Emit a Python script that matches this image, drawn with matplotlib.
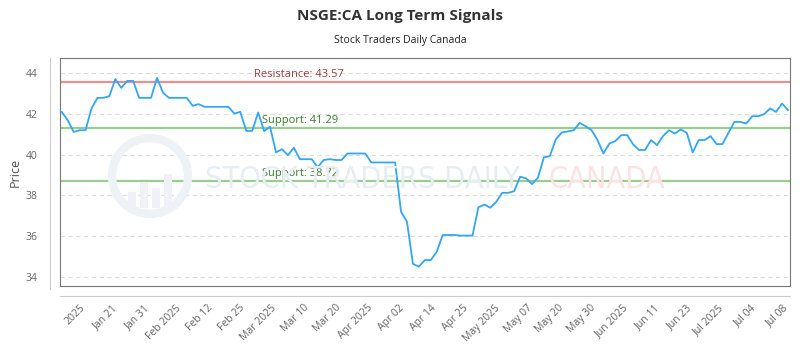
import matplotlib
matplotlib.use("Agg")
import matplotlib.pyplot as plt
import numpy as np
from matplotlib.lines import Line2D
from matplotlib.patches import Circle, Rectangle

plt.rcParams['font.family'] = ['Open Sans', 'DejaVu Sans']

# daily closes, oldest first
prices = [42.10, 41.70, 41.12, 41.20, 41.20, 42.27, 42.79, 42.79, 42.87, 43.71,
          43.28, 43.62, 43.62, 42.79, 42.79, 42.79, 43.77, 43.05, 42.79, 42.79,
          42.79, 42.79, 42.40, 42.48, 42.35, 42.35, 42.35, 42.35, 42.35, 42.02,
          42.10, 41.17, 41.17, 42.07, 41.16, 41.37, 40.11, 40.27, 39.98, 40.34,
          39.78, 39.78, 39.78, 39.38, 39.74, 39.78, 39.74, 39.74, 40.06, 40.06,
          40.06, 40.06, 39.62, 39.62, 39.62, 39.62, 39.62, 37.20, 36.71, 34.64,
          34.51, 34.83, 34.83, 35.24, 36.06, 36.06, 36.06, 36.03, 36.03, 36.03,
          37.42, 37.55, 37.40, 37.69, 38.13, 38.13, 38.21, 38.92, 38.84, 38.56,
          38.87, 39.87, 39.93, 40.75, 41.09, 41.14, 41.20, 41.56, 41.40, 41.20,
          40.72, 40.06, 40.55, 40.67, 40.96, 40.96, 40.50, 40.23, 40.23, 40.72,
          40.47, 40.91, 41.20, 41.04, 41.24, 41.07, 40.11, 40.72, 40.72, 40.91,
          40.52, 40.52, 41.07, 41.61, 41.61, 41.53, 41.89, 41.89, 41.99, 42.27,
          42.10, 42.51, 42.19]

tick_labels = ["2025", "Jan 21", "Jan 31", "Feb 2025", "Feb 12", "Feb 25",
               "Mar 2025", "Mar 10", "Mar 20", "Apr 2025", "Apr 02", "Apr 14",
               "Apr 25", "May 2025", "May 07", "May 20", "May 30", "Jun 2025",
               "Jun 11", "Jun 23", "Jul 2025", "Jul 04", "Jul 08"]

resistance = 43.57
supports = [41.29, 38.72]

fig = plt.figure(figsize=(8, 3.5), dpi=100)
ax = fig.add_axes([0.075, 0.183, 0.9125, 0.651])

# watermark: ring logo + name
logo_tr = fig.dpi_scale_trans
fig.patches.append(Circle((1.50, 1.74), 0.38, transform=logo_tr, fill=False,
                          lw=6, ec='#edf2f6', zorder=0))
for bx, bh in [(1.28, 0.16), (1.40, 0.26), (1.52, 0.20), (1.64, 0.34)]:
    fig.patches.append(Rectangle((bx, 1.42), 0.08, bh, transform=logo_tr,
                                 fc='#eef2f6', ec='none', zorder=0))
wm_font = dict(fontsize=22, fontstretch='condensed', va='center', zorder=0,
               family=['DejaVu Sans'])
fig.text(0.256, 0.486, "STOCK TRADERS DAILY", color='#e6edf3', **wm_font)
fig.text(0.685, 0.486, "CANADA", color='#fbe3e3', **wm_font)

x = np.arange(len(prices))
ax.set_facecolor('none')
for yv in range(34, 45, 2):
    ax.axhline(yv, color='#dddddd', lw=0.8, ls=(0, (4, 3)), zorder=1)

ax.axhline(resistance, color='#ea9090', lw=1.6, zorder=2)
for s in supports:
    ax.axhline(s, color='#98cf8e', lw=1.6, zorder=2)
ax.plot(x, prices, color='#33a6f5', lw=1.3, zorder=3)

lbl_tr = ax.get_yaxis_transform()
ax.text(0.266, resistance + 0.1, f"Resistance: {resistance:.2f}", transform=lbl_tr,
        color='#a33a3a', fontsize=8, va='bottom')
for s in supports:
    ax.text(0.277, s + 0.1, f"Support: {s:.2f}", transform=lbl_tr,
            color='#3b7d2e', fontsize=8, va='bottom')

ax.set_xlim(-0.29, len(prices) - 0.66)
ax.set_ylim(33.56, 44.74)
ax.set_yticks(range(34, 45, 2))
ax.set_xticks(np.linspace(3.0, 121.0, len(tick_labels)))
ax.set_xticklabels(tick_labels, rotation=45, ha='right', rotation_mode='anchor')
ax.tick_params(axis='y', length=0, pad=16, labelsize=7.5, labelcolor='#666666')
ax.tick_params(axis='x', length=0, pad=12, labelsize=7.5, labelcolor='#666666')
for sp in ax.spines.values():
    sp.set_color('#777777')
    sp.set_linewidth(0.8)
ax.set_ylabel("Price", fontsize=9, color='#555555', labelpad=3)

# detached axis lines
fig.add_artist(Line2D([50 / 800, 50 / 800], [1 - 58 / 350, 1 - 289 / 350],
                      color='#cccccc', lw=0.8))
fig.add_artist(Line2D([60 / 800, 790 / 800], [1 - 296 / 350, 1 - 296 / 350],
                      color='#cccccc', lw=0.8))

fig.text(0.5, 1 - 16 / 350, "NSGE:CA Long Term Signals", ha='center', va='center',
         fontsize=11, fontweight='bold', color='#333333')
fig.text(0.5, 1 - 40 / 350, "Stock Traders Daily Canada", ha='center', va='center',
         fontsize=7.5, color='#222222')

fig.savefig("out.png", dpi=100)
